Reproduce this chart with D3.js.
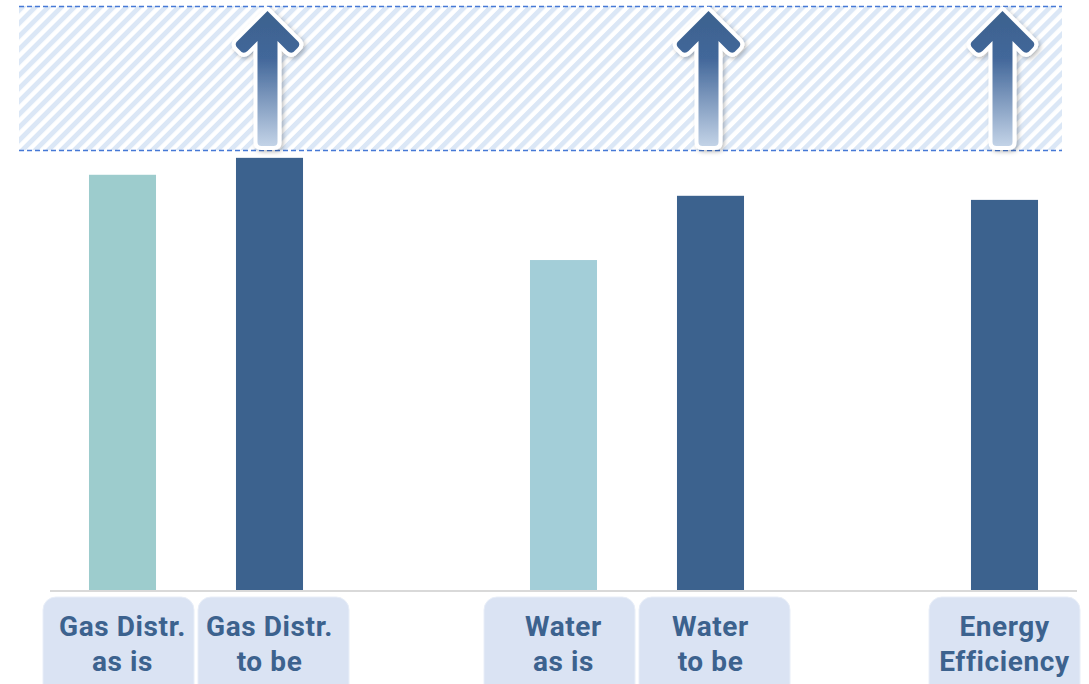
<!DOCTYPE html>
<html>
<head>
<meta charset="utf-8">
<script src="https://cdn.jsdelivr.net/npm/d3@7"></script>
<style>
  body { margin: 0; background: #fff; }
  svg { display: block; font-family: Roboto, "Noto Sans", sans-serif; }
</style>
</head>
<body>
<svg></svg>
<script>
  // categories (empty strings are the gaps between groups)
  let categories = ['Gas Distr.|as is', 'Gas Distr.|to be', '', 'Water|as is', 'Water|to be', '', 'Energy|Efficiency']
  let values = [71.1, 74.0, null, 56.5, 67.5, null, 66.8]
  let kinds = ['asis', 'tobe', null, 'asis', 'tobe', null, 'tobe']
  let targetBand = [75.3, 100]
  let arrowAt = ['Gas Distr.|to be', 'Water|to be', 'Energy|Efficiency']

  let svgWidth = 1089, svgHeight = 684
  let baseY = 590

  let svg = d3.select('svg')
    .attr('width', svgWidth)
    .attr('height', svgHeight)

  let x = d3.scaleBand()
    .domain(categories.map((c, i) => i))
    .range([49, 1078])
    .paddingInner(0.544)
    .paddingOuter(0.272)

  let y = d3.scaleLinear()
    .domain([0, 100])
    .range([baseY, 6])

  let cx = i => x(i) + x.bandwidth() / 2

  let defs = svg.append('defs')

  // diagonal stripes for the target band
  let pat = defs.append('pattern')
    .attr('id', 'hatch')
    .attr('patternUnits', 'userSpaceOnUse')
    .attr('width', 9.2).attr('height', 9.2)
    .attr('patternTransform', 'rotate(45)')
  pat.append('rect')
    .attr('width', 4.8).attr('height', 9.2)
    .attr('fill', '#dbe7f6')

  let grad = defs.append('linearGradient')
    .attr('id', 'arrowGrad')
    .attr('x1', 0).attr('y1', 0).attr('x2', 0).attr('y2', 1)
  grad.append('stop').attr('offset', '0%').attr('stop-color', '#3c628e')
  grad.append('stop').attr('offset', '35%').attr('stop-color', '#42679a')
  grad.append('stop').attr('offset', '100%').attr('stop-color', '#c3d3e7')

  let shadow = defs.append('filter').attr('id', 'shadow')
    .attr('x', '-30%').attr('y', '-10%').attr('width', '160%').attr('height', '130%')
  shadow.append('feDropShadow')
    .attr('dx', 2).attr('dy', 2).attr('stdDeviation', 2)
    .attr('flood-color', '#000').attr('flood-opacity', 0.25)

  // target band
  svg.append('rect')
    .attr('x', 19).attr('width', 1043)
    .attr('y', y(targetBand[1])).attr('height', y(targetBand[0]) - y(targetBand[1]))
    .attr('fill', 'url(#hatch)')

  svg.selectAll('.bandline')
    .data(targetBand)
    .enter()
    .append('line')
    .attr('x1', 19).attr('x2', 1062)
    .attr('y1', d => Math.round(y(d)) + 0.5).attr('y2', d => Math.round(y(d)) + 0.5)
    .attr('stroke', '#4679d6')
    .attr('stroke-width', 1.3)
    .attr('stroke-dasharray', '5 3')

  // bars
  let barData = categories.map((c, i) => ({ c, i, v: values[i], k: kinds[i] })).filter(d => d.v != null)

  svg.selectAll('.bar')
    .data(barData)
    .enter()
    .append('rect')
    .attr('x', d => x(d.i))
    .attr('width', x.bandwidth())
    .attr('y', d => y(d.v))
    .attr('height', d => y(0) - y(d.v))
    .attr('fill', d => d.k === 'tobe' ? '#3c628e' : (d.i === 0 ? '#9dcccd' : '#a3ced8'))

  // baseline
  svg.append('line')
    .attr('x1', 50).attr('x2', 1077)
    .attr('y1', baseY + 1).attr('y2', baseY + 1)
    .attr('stroke', '#d9d9d9')
    .attr('stroke-width', 2)

  // arrows
  let arrowPath = 'M0,0 L31,31 Q33,34 30,37 L26,41 Q23,43 20,40 L10,30 L10,131 Q10,135 6,135 L-6,135 Q-10,135 -10,131 L-10,30 L-20,40 Q-23,43 -26,41 L-30,37 Q-33,34 -31,31 Z'

  svg.selectAll('.arrow')
    .data(barData.filter(d => arrowAt.includes(d.c)))
    .enter()
    .append('path')
    .attr('d', arrowPath)
    .attr('transform', d => `translate(${cx(d.i) - 2}, 11)`)
    .attr('fill', 'url(#arrowGrad)')
    .attr('stroke', '#fff')
    .attr('stroke-width', 8)
    .attr('stroke-linejoin', 'round')
    .attr('paint-order', 'stroke')
    .attr('filter', 'url(#shadow)')

  // label boxes, nudged apart where two sit side by side
  let boxW = 151
  let labels = svg.selectAll('.label')
    .data(barData)
    .enter()
    .append('g')
    .attr('transform', d => `translate(${cx(d.i)}, 0)`)

  labels.append('rect')
    .attr('x', d => {
      let nudge = 0
      if (categories[d.i + 1]) nudge -= 4
      if (categories[d.i - 1]) nudge += 4
      return -boxW / 2 + nudge
    })
    .attr('y', 597)
    .attr('width', boxW)
    .attr('height', 110)
    .attr('rx', 13)
    .attr('fill', '#dae3f3')
    .attr('stroke', '#e8eef8')
    .attr('stroke-width', 1)

  labels.each(function (d) {
    let g = d3.select(this)
    d.c.split('|').forEach((t, j) => {
      g.append('text')
        .attr('x', 0)
        .attr('y', 636 + j * 35)
        .attr('text-anchor', 'middle')
        .attr('font-size', 28)
        .attr('font-weight', 'bold')
        .attr('letter-spacing', 0.6)
        .attr('fill', '#3c628e')
        .text(t)
    })
  })
</script>
</body>
</html>
